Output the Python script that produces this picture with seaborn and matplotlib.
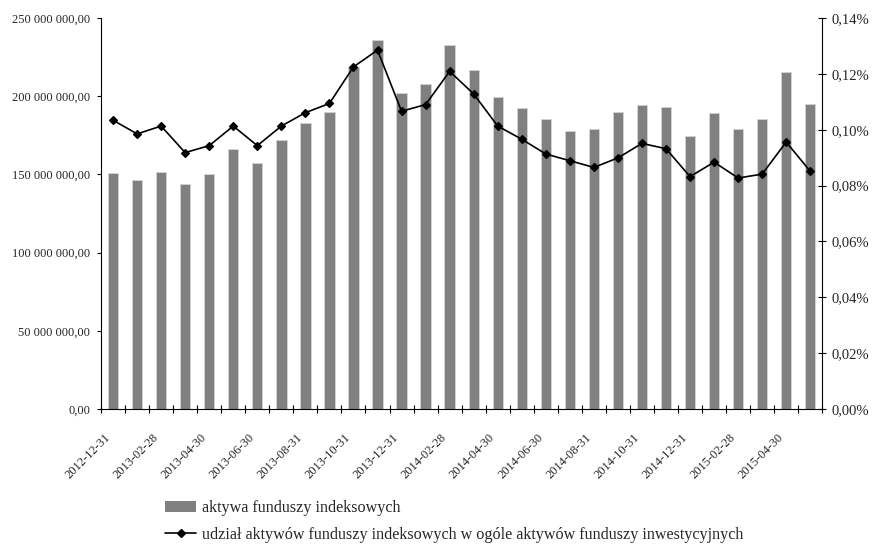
import numpy as np
import pandas as pd
import seaborn as sns
import matplotlib
matplotlib.use("Agg")
import matplotlib.pyplot as plt
import matplotlib.transforms as mtransforms
from matplotlib.ticker import FuncFormatter, MultipleLocator
from matplotlib.patches import Patch
from matplotlib.lines import Line2D

# Month-end reporting dates
dates = [
    "2012-12-31", "2013-01-31", "2013-02-28", "2013-03-31", "2013-04-30",
    "2013-05-31", "2013-06-30", "2013-07-31", "2013-08-31", "2013-09-30",
    "2013-10-31", "2013-11-30", "2013-12-31", "2014-01-31", "2014-02-28",
    "2014-03-31", "2014-04-30", "2014-05-31", "2014-06-30", "2014-07-31",
    "2014-08-31", "2014-09-30", "2014-10-31", "2014-11-30", "2014-12-31",
    "2015-01-31", "2015-02-28", "2015-03-31", "2015-04-30", "2015-05-31",
]

# Index fund assets (PLN)
assets = [
    150.7e6, 146.4e6, 151.5e6, 143.9e6, 150.0e6, 166.0e6, 157.5e6, 172.0e6,
    183.1e6, 189.7e6, 218.9e6, 235.7e6, 201.8e6, 207.6e6, 232.5e6, 217.0e6,
    199.3e6, 192.5e6, 185.6e6, 178.0e6, 178.8e6, 189.7e6, 194.2e6, 193.3e6,
    174.6e6, 189.1e6, 178.8e6, 185.6e6, 215.5e6, 194.8e6,
]

# Share of index funds in total investment fund assets (%)
share = [
    0.1034, 0.0985, 0.1013, 0.0918, 0.0943, 0.1013, 0.0943, 0.1013,
    0.1061, 0.1094, 0.1225, 0.1285, 0.1066, 0.1090, 0.1209, 0.1128,
    0.1013, 0.0966, 0.0913, 0.0889, 0.0865, 0.0899, 0.0951, 0.0932,
    0.0832, 0.0884, 0.0827, 0.0841, 0.0956, 0.0851,
]

bar_label = "aktywa funduszy indeksowych"
line_label = ("udział aktywów funduszy indeksowych w ogóle "
              "aktywów funduszy inwestycyjnych")

df = pd.DataFrame({"date": dates, "assets": assets, "share": share})

sns.set_style("white")
plt.rcParams["font.family"] = ["Liberation Serif", "DejaVu Serif"]
plt.rcParams["font.size"] = 9

fig = plt.figure(figsize=(8.77, 5.44), dpi=100)
ax = fig.add_axes([0.1152, 0.2482, 0.8224, 0.7187])

bar_color = "#808080"
sns.barplot(data=df, x="date", y="assets", color=bar_color, saturation=1,
            width=0.43, edgecolor="#d4d4d4", linewidth=0.6, ax=ax)

ax2 = ax.twinx()
sns.pointplot(data=df, x="date", y="share", color="black", markers="D",
              markersize=4, linewidth=1.2, errorbar=None, ax=ax2)

n = len(dates)
for a in (ax, ax2):
    a.set_xlim(-0.5, n - 0.5)
    a.set_xlabel("")
    a.set_ylabel("")

ax.set_ylim(0, 250e6)
ax.yaxis.set_major_locator(MultipleLocator(50e6))


def pln(v, _):
    s = f"{v:,.2f}"
    return s.replace(",", " ").replace(".", ",")


ax.yaxis.set_major_formatter(FuncFormatter(pln))

ax2.set_ylim(0, 0.14)
ax2.yaxis.set_major_locator(MultipleLocator(0.02))
ax2.yaxis.set_major_formatter(
    FuncFormatter(lambda v, _: f"{v:.2f}%".replace(".", ",")))

# Category labels on every other month, tick marks between categories
idx = np.arange(0, n, 2)
ax.set_xticks(idx)
ax.set_xticklabels([dates[i] for i in idx], rotation=45, ha="right",
                   va="top", rotation_mode="anchor")
ax.set_xticks(np.arange(-0.5, n, 1), minor=True)
ax.tick_params(axis="x", which="major", length=0, pad=14, labelsize=9)
ax.tick_params(axis="x", which="minor", direction="inout", length=6,
               width=0.8, color="black", bottom=True)
ax2.tick_params(axis="x", which="both", bottom=False, top=False,
                labelbottom=False)

shift = mtransforms.ScaledTranslation(-9 / 100, -3 / 100, fig.dpi_scale_trans)
for lbl in ax.get_xticklabels():
    lbl.set_transform(lbl.get_transform() + shift)

ax.tick_params(axis="y", direction="out", length=3, width=0.8,
               color="black", left=True, pad=5, labelsize=9)
ax2.tick_params(axis="y", direction="inout", length=6, width=0.8,
                color="black", right=True, pad=4, labelsize=10.5)

for a in (ax, ax2):
    a.spines["top"].set_visible(False)
    for side in ("left", "bottom", "right"):
        a.spines[side].set_color("black")
        a.spines[side].set_linewidth(0.8)
ax.spines["right"].set_visible(False)
ax2.spines["left"].set_visible(False)
ax2.spines["bottom"].set_visible(False)

handles = [
    Patch(facecolor=bar_color, edgecolor="none"),
    Line2D([], [], color="black", marker="D", markersize=4, linewidth=1.2),
]
fig.legend(handles, [bar_label, line_label], loc="upper left",
           bbox_to_anchor=(0.188, 0.081), frameon=False, fontsize=11.6,
           handlelength=1.94, handleheight=0.69, handletextpad=0.37,
           labelspacing=0.68, borderpad=0, borderaxespad=0)

fig.savefig("out.png", dpi=100)
